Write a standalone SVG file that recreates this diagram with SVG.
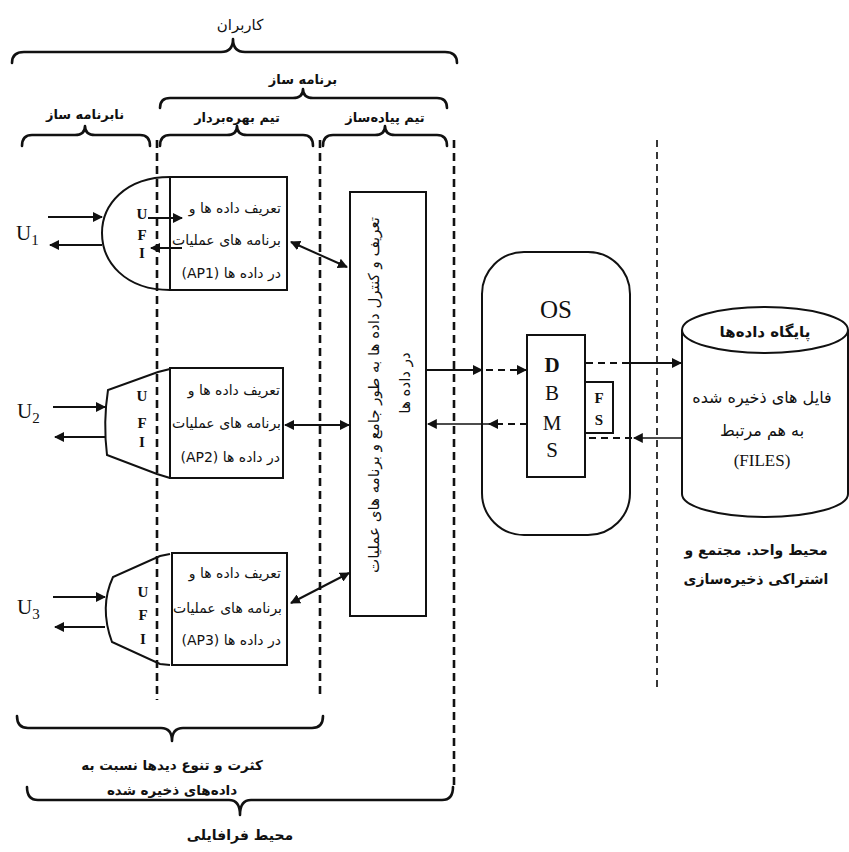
<svg xmlns="http://www.w3.org/2000/svg" width="849" height="852" viewBox="0 0 849 852">
<style>
.bg{fill:#fff}
.brace{fill:none;stroke:#111;stroke-width:2.6;stroke-linejoin:round;stroke-linecap:round}
.vdash{fill:none;stroke:#111;stroke-width:2.6;stroke-dasharray:8 5}
.vdash2{fill:none;stroke:#222;stroke-width:1.8;stroke-dasharray:7 5}
.box{fill:#fff;stroke:#111;stroke-width:2}
.shape{fill:#fff;stroke:#111;stroke-width:2}
.ln{fill:none;stroke:#111;stroke-width:2}
.thin{fill:none;stroke:#111;stroke-width:1.4}
.dash{fill:none;stroke:#111;stroke-width:2;stroke-dasharray:7 5}
.fa{font-family:"DejaVu Sans",sans-serif;fill:#111}
.lat{font-family:"Liberation Serif",serif;fill:#111}
.b{font-weight:bold}
</style>
<defs>
<marker id="ah" viewBox="0 0 10 10" refX="9" refY="5" markerWidth="5" markerHeight="5" orient="auto-start-reverse" markerUnits="strokeWidth">
<path d="M0,0 L10,5 L0,10 z" fill="#111"/>
</marker>
<marker id="ahs" viewBox="0 0 10 10" refX="9" refY="5" markerWidth="7" markerHeight="7" orient="auto-start-reverse" markerUnits="strokeWidth">
<path d="M0,0 L10,5 L0,10 z" fill="#111"/>
</marker>
</defs>
<rect class="bg" x="0" y="0" width="849" height="852"/>

<g id="braces">
<path class="brace" d="M12,63 Q12,52 24,52 L221,52 Q233,52 233,39 Q233,52 245,52 L445,52 Q457,52 457,63"/>
<path class="brace" d="M160,108 Q160,98 170,98 L293,98 Q303,98 303,89 Q303,98 313,98 L437,98 Q447,98 447,108"/>
<path class="brace" d="M22,146 Q22,135 32,135 L75,135 Q85,135 85,126 Q85,135 95,135 L140,135 Q150,135 150,146"/>
<path class="brace" d="M160,146 Q160,135 170,135 L227,135 Q237,135 237,126 Q237,135 247,135 L303,135 Q313,135 313,146"/>
<path class="brace" d="M323,146 Q323,135 333,135 L375,135 Q385,135 385,126 Q385,135 395,135 L437,135 Q447,135 447,146"/>
<path class="brace" d="M17,716 Q17,728 28,728 L161,728 Q172,728 172,741 Q172,728 183,728 L312,728 Q323,728 323,716"/>
<path class="brace" d="M27,787 Q27,800 38,800 L229,800 Q240,800 240,815 Q240,800 251,800 L442,800 Q453,800 453,787"/>
<text class="fa" x="240" y="30" font-size="15" text-anchor="middle" direction="rtl">کاربران</text>
<text class="fa b" x="303" y="84" font-size="13" text-anchor="middle" direction="rtl">برنامه ساز</text>
<text class="fa b" x="85" y="119" font-size="13" text-anchor="middle" direction="rtl">نابرنامه ساز</text>
<text class="fa b" x="237" y="122" font-size="13" text-anchor="middle" direction="rtl">تیم بهره‌بردار</text>
<text class="fa b" x="385" y="122" font-size="13" text-anchor="middle" direction="rtl">تیم پیاده‌ساز</text>
<text class="fa b" x="172" y="770" font-size="13.5" text-anchor="middle" direction="rtl">کثرت و تنوع دیدها نسبت به</text>
<text class="fa b" x="172" y="795" font-size="13.5" text-anchor="middle" direction="rtl">داده‌های ذخیره شده</text>
<text class="fa b" x="240" y="840" font-size="14" text-anchor="middle" direction="rtl">محیط فرافایلی</text>
</g>

<g id="user1">
<path class="shape" d="M170,177 C125,177 102,205 102,233 C102,262 125,290 170,290"/>
<text class="lat" x="16" y="240" font-size="21">U<tspan dy="5" font-size="15">1</tspan></text>
<line class="ln" x1="48" y1="217" x2="102" y2="217" marker-end="url(#ah)"/>
<line class="ln" x1="102" y1="245" x2="50" y2="245" marker-end="url(#ah)"/>
</g>
<g id="ap1">
<rect class="box" x="170" y="177" width="117" height="113"/>
<text class="fa" x="281" y="213" font-size="14" text-anchor="start" direction="rtl">تعریف داده ها و</text>
<text class="fa" x="281" y="245" font-size="14" text-anchor="start" direction="rtl">برنامه های عملیات</text>
<text class="fa" x="281" y="278" font-size="14" text-anchor="start" direction="rtl">در داده ها (AP1)</text>
</g>
<g id="ufi1">
<text class="lat b" x="142" y="219" font-size="15" text-anchor="middle">U</text>
<text class="lat b" x="142" y="240" font-size="15" text-anchor="middle">F</text>
<text class="lat b" x="142" y="258" font-size="15" text-anchor="middle">I</text>
<line class="ln" x1="148" y1="218" x2="182" y2="218" marker-end="url(#ah)"/>
<line class="ln" x1="182" y1="248" x2="151" y2="248" marker-end="url(#ah)"/>
</g>

<g id="user2">
<path class="shape" d="M170,369 L158,372 L108,390 Q103,422 107,455 L157,474 L170,478"/>
<text class="lat" x="17" y="418" font-size="21">U<tspan dy="5" font-size="15">2</tspan></text>
<line class="ln" x1="53" y1="407" x2="105" y2="407" marker-end="url(#ah)"/>
<line class="ln" x1="105" y1="437" x2="55" y2="437" marker-end="url(#ah)"/>
</g>
<g id="ufi2">
<text class="lat b" x="142" y="401" font-size="15" text-anchor="middle" fill="#444">U</text>
<text class="lat b" x="142" y="428" font-size="15" text-anchor="middle" fill="#444">F</text>
<text class="lat b" x="142" y="447" font-size="15" text-anchor="middle" fill="#444">I</text>
</g>
<g id="ap2">
<rect class="box" x="170" y="368" width="113" height="110"/>
<text class="fa" x="280" y="395" font-size="14" text-anchor="start" direction="rtl">تعریف داده ها و</text>
<text class="fa" x="281" y="428" font-size="14" text-anchor="start" direction="rtl">برنامه های عملیات</text>
<text class="fa" x="280" y="462" font-size="14" text-anchor="start" direction="rtl">در داده ها (AP2)</text>
</g>

<g id="user3">
<path class="shape" d="M170,554 L160,556 L113,577 Q99,607 112,642 L160,664 L170,665"/>
<text class="lat" x="17" y="614" font-size="21">U<tspan dy="5" font-size="15">3</tspan></text>
<line class="ln" x1="53" y1="597" x2="105" y2="597" marker-end="url(#ah)"/>
<line class="ln" x1="105" y1="627" x2="55" y2="627" marker-end="url(#ah)"/>
</g>
<g id="ufi3">
<text class="lat b" x="143" y="597" font-size="15" text-anchor="middle">U</text>
<text class="lat b" x="143" y="620" font-size="15" text-anchor="middle">F</text>
<text class="lat b" x="143" y="644" font-size="15" text-anchor="middle">I</text>
</g>
<g id="ap3">
<rect class="box" x="172" y="553" width="115" height="112"/>
<text class="fa" x="281" y="578" font-size="14" text-anchor="start" direction="rtl">تعریف داده ها و</text>
<text class="fa" x="282" y="613" font-size="14" text-anchor="start" direction="rtl">برنامه های عملیات</text>
<text class="fa" x="281" y="645" font-size="14" text-anchor="start" direction="rtl">در داده ها (AP3)</text>
</g>

<g id="control">
<rect class="box" x="350" y="192" width="76" height="424"/>
<text class="fa" transform="translate(379,395) rotate(-90)" x="0" y="0" font-size="15" text-anchor="middle" direction="rtl">تعریف و کنترل داده ها به طور جامع و برنامه های عملیات</text>
<text class="fa" transform="translate(410,383) rotate(-90)" x="0" y="0" font-size="15" text-anchor="middle" direction="rtl">در داده ها</text>
</g>

<g id="os">
<rect class="box" x="482" y="252" width="148" height="283" rx="42" ry="42" fill="none"/>
<text class="lat" x="556" y="318" font-size="25" text-anchor="middle">OS</text>
</g>
<g id="dbms">
<rect class="box" x="527" y="335" width="58" height="142"/>
<text class="lat b" x="552" y="372" font-size="21" text-anchor="middle">D</text>
<text class="lat" x="552" y="400" font-size="21" text-anchor="middle">B</text>
<text class="lat" x="552" y="430" font-size="21" text-anchor="middle" fill="#555">M</text>
<text class="lat" x="552" y="457" font-size="21" text-anchor="middle" fill="#999">S</text>
</g>
<g id="fs">
<rect class="box" x="585" y="382" width="28" height="51"/>
<text class="lat b" x="599" y="403" font-size="15" text-anchor="middle" fill="#1a2240">F</text>
<text class="lat b" x="599" y="425" font-size="15" text-anchor="middle" fill="#1a2240">S</text>
</g>

<g id="database">
<path class="box" d="M682,330 L682,494 A83,23 0 0 0 848,494 L848,330"/>
<ellipse class="box" cx="765" cy="330" rx="83" ry="23"/>
<text class="fa b" x="765" y="337" font-size="15" text-anchor="middle" direction="rtl">پایگاه داده‌ها</text>
<text class="fa" x="762" y="403" font-size="16" text-anchor="middle" direction="rtl">فایل های ذخیره شده</text>
<text class="fa" x="762" y="436" font-size="16" text-anchor="middle" direction="rtl">به هم مرتبط</text>
<text class="lat" x="762" y="466" font-size="17" text-anchor="middle">(FILES)</text>
</g>

<g id="env-label">
<text class="fa b" x="756" y="555" font-size="14" text-anchor="middle" direction="rtl">محیط واحد. مجتمع و</text>
<text class="fa b" x="756" y="584" font-size="14" text-anchor="middle" direction="rtl">اشتراکی ذخیره‌سازی</text>
</g>

<g id="boundaries">
<line class="vdash" x1="157" y1="140" x2="157" y2="700"/>
<line class="vdash" x1="320" y1="140" x2="320" y2="698"/>
<line class="vdash" x1="454" y1="140" x2="454" y2="790"/>
<line class="vdash2" x1="657" y1="140" x2="657" y2="692"/>
</g>

<g id="connectors">
<line class="ln" x1="291" y1="242" x2="347" y2="267" marker-start="url(#ah)" marker-end="url(#ah)"/>
<line class="ln" x1="285" y1="425" x2="349" y2="425" marker-start="url(#ah)" marker-end="url(#ah)"/>
<line class="ln" x1="291" y1="603" x2="349" y2="573" marker-start="url(#ah)" marker-end="url(#ah)"/>
<line class="ln" x1="426" y1="370" x2="482" y2="370" marker-end="url(#ah)"/>
<line class="dash" x1="486" y1="370" x2="526" y2="370" marker-end="url(#ah)"/>
<line class="dash" x1="527" y1="424" x2="489" y2="424" marker-end="url(#ah)"/>
<line class="thin" x1="490" y1="424" x2="428" y2="424" marker-end="url(#ahs)"/>
<line class="dash" x1="586" y1="363" x2="632" y2="363"/>
<line class="ln" x1="630" y1="363" x2="681" y2="363" marker-end="url(#ah)"/>
<line class="thin" x1="682" y1="438" x2="634" y2="438" marker-end="url(#ahs)"/>
<line class="dash" x1="632" y1="438" x2="586" y2="438"/>
</g>
</svg>
